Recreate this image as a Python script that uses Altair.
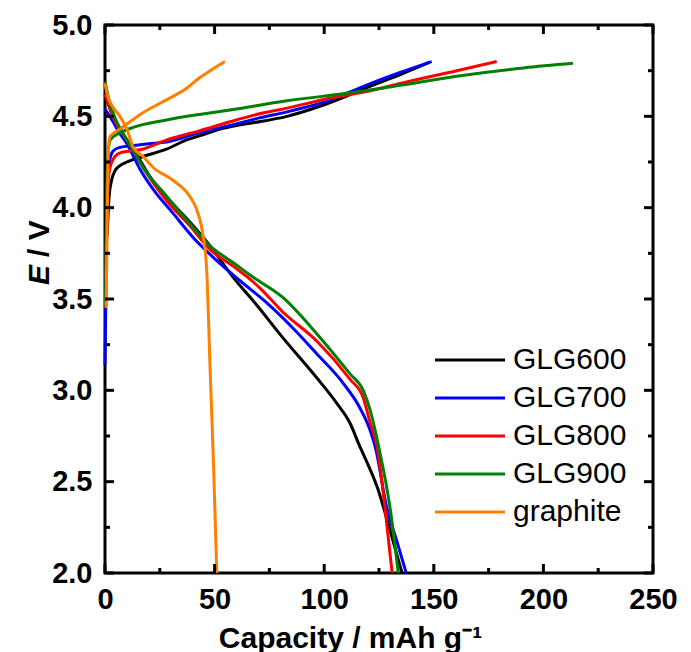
import altair as alt
import pandas as pd

FONT = "Liberation Sans, Arial, sans-serif"

series = ["GLG600", "GLG700", "GLG800", "GLG900", "graphite"]
colors = ["#000000", "#0000FF", "#FF0000", "#008000", "#FF8000"]

# charge curves (capacity, voltage)
c600_x = [1.0, 1.8, 3.0, 4.5, 6.8, 10, 17.3, 28, 37, 45, 52.5, 60, 67.5, 83, 98, 110, 120, 135, 148]
c600_y = [3.85, 4.05, 4.15, 4.20, 4.23, 4.25, 4.28, 4.32, 4.37, 4.40, 4.43, 4.45, 4.465, 4.50, 4.555, 4.61, 4.66, 4.73, 4.795]
c700_x = [0, 0.5, 1.0, 2.0, 3.7, 6.8, 12.9, 20, 28, 43, 57, 70, 85, 103, 116, 134.6, 149]
c700_y = [3.14, 3.6, 4.1, 4.25, 4.31, 4.33, 4.34, 4.35, 4.36, 4.41, 4.45, 4.49, 4.53, 4.59, 4.655, 4.74, 4.80]
c800_x = [0.3, 0.8, 1.5, 2.3, 4, 6.8, 17, 28, 43, 57, 67.5, 83, 103, 121, 134.6, 160.5, 178.7]
c800_y = [3.6, 3.95, 4.15, 4.22, 4.27, 4.30, 4.32, 4.37, 4.42, 4.47, 4.505, 4.545, 4.60, 4.64, 4.68, 4.75, 4.80]
c900_x = [0.3, 0.6, 1.2, 2.3, 6.8, 12.9, 28, 43, 57, 83, 113, 134.6, 160.5, 191, 213.5]
c900_y = [3.46, 3.9, 4.25, 4.37, 4.41, 4.44, 4.48, 4.51, 4.535, 4.585, 4.63, 4.67, 4.72, 4.765, 4.79]
cgr_x = [0.5, 1.0, 1.5, 2.3, 6.8, 17.3, 28, 37.4, 43, 48, 54.7]
cgr_y = [3.45, 3.9, 4.3, 4.39, 4.43, 4.52, 4.59, 4.655, 4.71, 4.75, 4.80]

# discharge curves
d600_x = [0, 3, 6, 10, 16, 20.5, 28, 38.8, 48, 58.4, 69, 81, 96.5, 105.7, 111.8, 116, 120.5, 124.5, 128, 132, 135.5]
d600_y = [4.62, 4.52, 4.45, 4.37, 4.26, 4.17, 4.06, 3.92, 3.79, 3.62, 3.47, 3.29, 3.07, 2.93, 2.82, 2.70, 2.58, 2.46, 2.32, 2.15, 2.0]
d700_x = [0, 3.7, 6, 10, 13, 16, 22, 31, 40, 51, 61.6, 73.7, 85.8, 96.6, 108.6, 116, 121, 123.5, 128.5, 133, 137.4]
d700_y = [4.54, 4.47, 4.42, 4.35, 4.28, 4.21, 4.10, 3.97, 3.84, 3.71, 3.60, 3.48, 3.34, 3.20, 3.04, 2.91, 2.78, 2.68, 2.36, 2.18, 2.0]
d800_x = [0, 3, 6, 10, 14, 17.4, 28, 38.8, 48, 58.4, 66, 70.7, 81, 96.6, 111.8, 117.8, 121, 124, 127.7, 131]
d800_y = [4.62, 4.52, 4.44, 4.37, 4.29, 4.22, 4.04, 3.90, 3.77, 3.68, 3.61, 3.56, 3.43, 3.27, 3.06, 2.96, 2.82, 2.70, 2.36, 2.0]
d900_x = [0, 2, 5, 10, 14, 17.4, 28.3, 38.8, 48, 58.4, 67.5, 81, 96.6, 111.8, 117.8, 121, 124.7, 130, 133.8]
d900_y = [4.69, 4.58, 4.48, 4.37, 4.29, 4.22, 4.06, 3.91, 3.79, 3.70, 3.62, 3.51, 3.31, 3.09, 3.00, 2.89, 2.70, 2.36, 2.0]
dgr_x = [0, 1, 3.7, 6.8, 10, 12.9, 17.4, 22, 31, 38.8, 41.8, 44.8, 46.4, 48, 49.5, 51.0]
dgr_y = [4.68, 4.62, 4.55, 4.50, 4.43, 4.33, 4.28, 4.22, 4.15, 4.06, 3.99, 3.84, 3.66, 3.10, 2.6, 2.0]

x_major = [0, 50, 100, 150, 200, 250]
x_minor = [25, 75, 125, 175, 225]
y_major = [2.0, 2.5, 3.0, 3.5, 4.0, 4.5, 5.0]
y_minor = [2.25, 2.75, 3.25, 3.75, 4.25, 4.75]

curves = {
    "GLG600": [(c600_x, c600_y), (d600_x, d600_y)],
    "GLG700": [(c700_x, c700_y), (d700_x, d700_y)],
    "GLG800": [(c800_x, c800_y), (d800_x, d800_y)],
    "GLG900": [(c900_x, c900_y), (d900_x, d900_y)],
    "graphite": [(cgr_x, cgr_y), (dgr_x, dgr_y)],
}

rows = []
for name in series:
    for k, (xs, ys) in enumerate(curves[name]):
        for i, (xv, yv) in enumerate(zip(xs, ys)):
            rows.append({"s": name, "seg": f"{name}-{k}", "i": i, "x": xv, "y": yv})
df = pd.DataFrame(rows)

W, H = 548, 548
XS = alt.Scale(domain=[0, 250], nice=False, zero=False)
YS = alt.Scale(domain=[2.0, 5.0], nice=False, zero=False)

lines = alt.Chart(df).mark_line(strokeWidth=3, strokeCap="butt", interpolate="monotone").encode(
    x=alt.X("x:Q", scale=XS, axis=alt.Axis(
        values=x_major, format="d", ticks=False, domain=False, grid=False,
        labelFont=FONT, labelFontSize=29, labelFontWeight="bold", labelColor="black",
        labelPadding=12, labelFlush=False, labelOverlap=False,
        title="Capacity / mAh g\u207b\u00b9", titleFont=FONT, titleFontSize=30,
        titleFontWeight="bold", titleColor="black", titleX=245, titleY=74,
        titleBaseline="alphabetic", titleAlign="center")),
    y=alt.Y("y:Q", scale=YS, axis=alt.Axis(
        values=y_major, format=".1f", ticks=False, domain=False, grid=False,
        labelFont=FONT, labelFontSize=29, labelFontWeight="bold", labelColor="black",
        labelPadding=13, labelFlush=False, labelOverlap=False, title=None)),
    color=alt.Color("s:N", scale=alt.Scale(domain=series, range=colors),
                    legend=alt.Legend(title=None, orient="none", legendX=350, legendY=320,
                                      symbolType="M-7,0H7", symbolSize=100, symbolStrokeWidth=3,
                                      symbolFillColor="transparent",
                                      labelFont=FONT, labelFontSize=30, labelColor="black",
                                      labelOffset=28, padding=0, rowPadding=8)),
    detail="seg:N",
    order="i:Q",
)

def tick_df(vals, field):
    return pd.DataFrame({field: vals})

tw = 3
bx_maj = alt.Chart(tick_df(x_major, "x")).mark_rule(strokeWidth=tw, color="black").encode(
    x="x:Q", y=alt.value(H), y2=alt.value(H - 9))
bx_min = alt.Chart(tick_df(x_minor, "x")).mark_rule(strokeWidth=tw, color="black").encode(
    x="x:Q", y=alt.value(H), y2=alt.value(H - 5))
tx_maj = alt.Chart(tick_df(x_major, "x")).mark_rule(strokeWidth=tw, color="black").encode(
    x="x:Q", y=alt.value(0), y2=alt.value(9))
tx_min = alt.Chart(tick_df(x_minor, "x")).mark_rule(strokeWidth=tw, color="black").encode(
    x="x:Q", y=alt.value(0), y2=alt.value(5))
ly_maj = alt.Chart(tick_df(y_major, "y")).mark_rule(strokeWidth=tw, color="black").encode(
    y="y:Q", x=alt.value(0), x2=alt.value(9))
ly_min = alt.Chart(tick_df(y_minor, "y")).mark_rule(strokeWidth=tw, color="black").encode(
    y="y:Q", x=alt.value(0), x2=alt.value(5))
ry_maj = alt.Chart(tick_df(y_major, "y")).mark_rule(strokeWidth=tw, color="black").encode(
    y="y:Q", x=alt.value(W), x2=alt.value(W - 9))
ry_min = alt.Chart(tick_df(y_minor, "y")).mark_rule(strokeWidth=tw, color="black").encode(
    y="y:Q", x=alt.value(W), x2=alt.value(W - 5))

title_e = alt.Chart(pd.DataFrame({"t": ["E"]})).mark_text(
    font=FONT, fontSize=30, fontWeight="bold", fontStyle="italic", angle=270,
    align="right", baseline="alphabetic", color="black").encode(
    text="t:N", x=alt.value(-56), y=alt.value(240))
title_v = alt.Chart(pd.DataFrame({"t": ["/ V"]})).mark_text(
    font=FONT, fontSize=30, fontWeight="bold", angle=270,
    align="left", baseline="alphabetic", color="black").encode(
    text="t:N", x=alt.value(-56), y=alt.value(232))

chart = alt.layer(
    lines, bx_maj, bx_min, tx_maj, tx_min, ly_maj, ly_min, ry_maj, ry_min, title_e, title_v
).properties(
    width=W, height=H,
    autosize=alt.AutoSizeParams(type="none"),
    padding={"left": 105, "top": 25, "right": 38, "bottom": 79},
    background="white",
).configure_view(stroke="black", strokeWidth=3)

chart.save("out.html", embed_options={"renderer": "svg", "actions": False})
